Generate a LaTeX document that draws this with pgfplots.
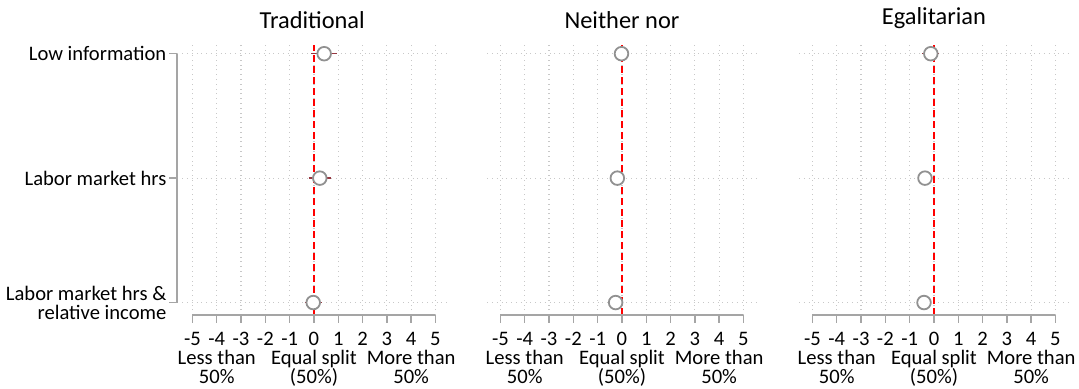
\documentclass[border=0pt]{standalone}
\usepackage{pgfplots}
\pgfplotsset{compat=1.18}
\usepackage{fontspec}
\setmainfont{Carlito}
\definecolor{axgray}{RGB}{165,165,165}
\definecolor{gridgray}{RGB}{200,200,200}
\definecolor{mkgray}{RGB}{145,145,145}
\definecolor{cired}{RGB}{150,55,65}
\definecolor{zred}{RGB}{255,0,0}

\pgfplotsset{
 panel/.style={
  scale only axis, width=134.85pt, height=135pt,
  ymin=0.9, ymax=3.07,
  axis line style={draw=none},
  xtick={-5,...,5},
  xticklabels={-5,-4,-3,-2,-1,0,1,2,3,4,5},
  ytick={1,2,3},
  xtick pos=left, ytick pos=left,
  tick align=outside,
  major tick length=4pt,
  tick style={axgray, line width=0.7pt},
  grid=major,
  major grid style={gridgray, dotted, line width=0.6pt},
  tick label style={font=\fontsize{10.3}{9.6}\selectfont},
  xticklabel style={yshift=-1pt},
  extra x ticks={-4,0,4},
  extra x tick labels={{Less than\\50\%},{Equal split\\(50\%)},{More than\\50\%}},
  extra x tick style={major tick length=0pt, grid=none,
     tick label style={align=center, yshift=-13pt, font=\fontsize{10.3}{9.8}\selectfont}},
  clip=false,
  title style={font=\fontsize{12.2}{14}\selectfont, yshift=-1.5pt},
 },
 zeroline/.style={draw=zred, color=zred, line width=0.95pt, dash pattern=on 3.5pt off 2pt},
 ci/.style={only marks, mark=none, error bars/.cd, x dir=both, x explicit,
     error bar style={cired, line width=0.75pt}, error mark options={cired, line width=0.75pt, mark size=1.8pt}},
 pts/.style={only marks, mark=*, mark size=3.4pt, mark options={draw=mkgray, fill=white, line width=0.9pt}},
}

\begin{document}
\begin{tikzpicture}
\useasboundingbox (-88.7pt,-37pt) rectangle (450.8pt,157.5pt);

% Panel 1
\begin{axis}[panel, at={(0pt,0pt)}, anchor=south west,
  xmin=-5.62, xmax=5.48, title={Traditional},
  yticklabels={{Labor market hrs \&\\relative income},{Labor market hrs},{Low information}},
  yticklabel style={align=right, xshift=2pt}]
\addplot[ci] coordinates {(-0.03,1) +- (0.2,0) (0.24,2) +- (0.31,0) (0.42,3) +- (0.38,0)};
\addplot[zeroline] coordinates {(0,0.9) (0,3.07)};
\addplot[pts] coordinates {(-0.03,1) (0.24,2) (0.42,3)};
\draw[axgray, line width=0.9pt] (axis cs:-5,0.9) -- (axis cs:5,0.9);
\draw[axgray, line width=0.9pt] (axis cs:-5.62,1) -- (axis cs:-5.62,3);
\end{axis}

% Panel 2
\begin{axis}[panel, at={(154.85pt,0pt)}, anchor=south west,
  xmin=-5.55, xmax=5.55, title={Neither nor},
  yticklabels={}, ytick style={draw=none}]
\addplot[ci] coordinates {(-0.26,1) +- (0.15,0) (-0.19,2) +- (0.15,0) (-0.02,3) +- (0.15,0)};
\addplot[zeroline] coordinates {(0,0.9) (0,3.07)};
\addplot[pts] coordinates {(-0.26,1) (-0.19,2) (-0.02,3)};
\draw[axgray, line width=0.9pt] (axis cs:-5,0.9) -- (axis cs:5,0.9);
\end{axis}

% Panel 3
\begin{axis}[panel, at={(310.85pt,0pt)}, anchor=south west,
  xmin=-5.55, xmax=5.55, title={Egalitarian},
  yticklabels={}, ytick style={draw=none}]
\addplot[ci] coordinates {(-0.41,1) +- (0.15,0) (-0.37,2) +- (0.15,0) (-0.13,3) +- (0.2,0)};
\addplot[zeroline] coordinates {(0,0.9) (0,3.07)};
\addplot[pts] coordinates {(-0.41,1) (-0.37,2) (-0.13,3)};
\draw[axgray, line width=0.9pt] (axis cs:-5,0.9) -- (axis cs:5,0.9);
\end{axis}
\end{tikzpicture}
\end{document}
